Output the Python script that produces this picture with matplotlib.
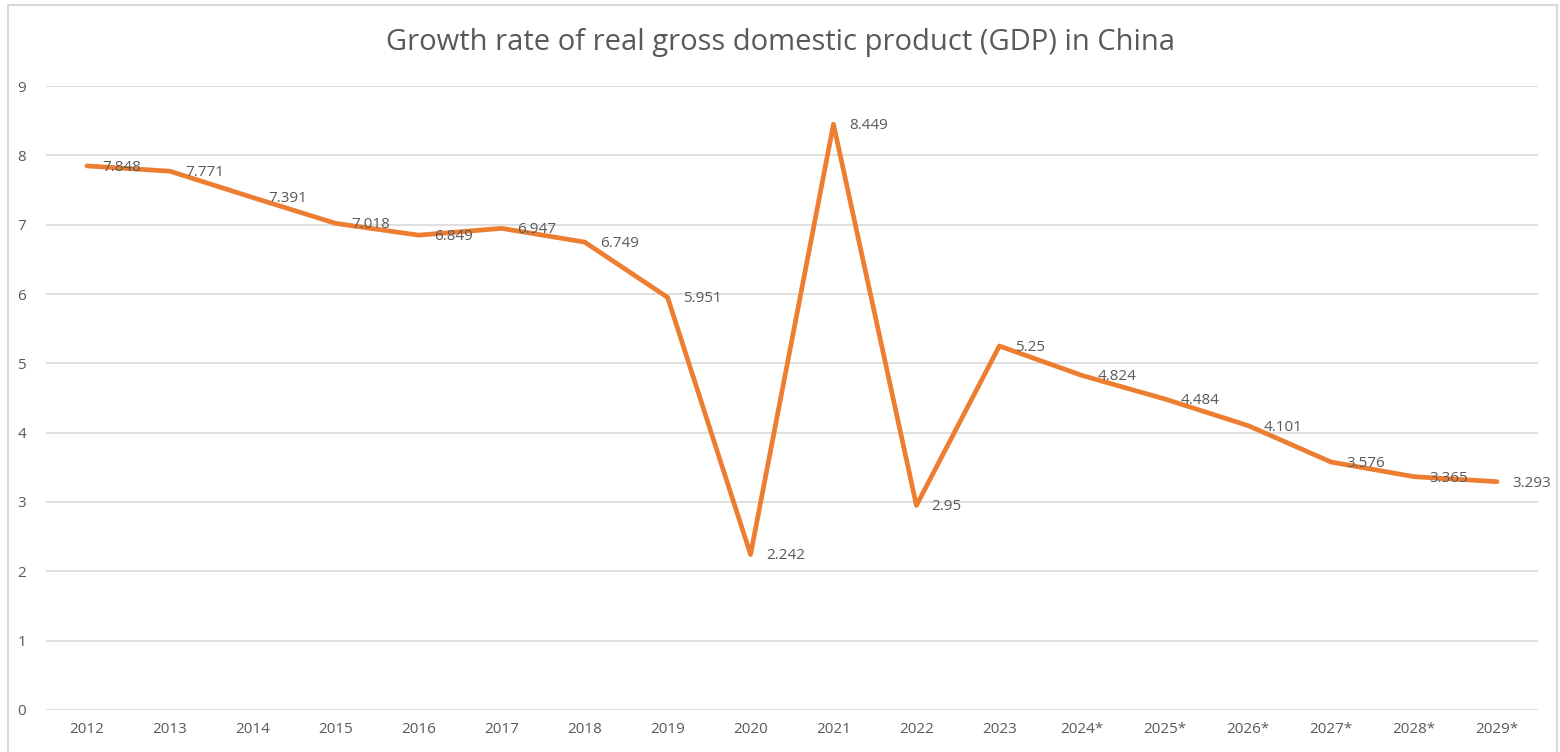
import matplotlib.pyplot as plt
from matplotlib.patches import Rectangle

years = ['2012', '2013', '2014', '2015', '2016', '2017', '2018', '2019', '2020',
         '2021', '2022', '2023', '2024*', '2025*', '2026*', '2027*', '2028*', '2029*']
growth = [7.848, 7.771, 7.391, 7.018, 6.849, 6.947, 6.749, 5.951, 2.242,
          8.449, 2.95, 5.25, 4.824, 4.484, 4.101, 3.576, 3.365, 3.293]

text_col = '#595959'
grid_col = '#D9D9D9'
line_col = '#ED7D31'

plt.rcParams['font.family'] = ['Open Sans', 'DejaVu Sans']

fig = plt.figure(figsize=(15.6, 7.52), dpi=100)
ax = fig.add_axes([0.0292, 0.0559, 0.957, 0.8297])

x = range(len(years))
ax.plot(x, growth, color=line_col, lw=3.4, solid_joinstyle='round', solid_capstyle='round', zorder=3)

for i, v in zip(x, growth):
    ax.annotate(f'{v:g}', (i, v), xytext=(11, -1), textcoords='offset points',
                ha='left', va='center', fontsize=11, color=text_col, zorder=4)

ax.set_xlim(-0.5, len(years) - 0.5)
ax.set_ylim(0, 9)
ax.set_yticks(range(10))
ax.set_xticks(list(x))
ax.set_xticklabels(years)
ax.grid(axis='y', color=grid_col, lw=1.2)
ax.set_axisbelow(True)
for s in ax.spines.values():
    s.set_visible(False)
ax.tick_params(length=0, labelsize=11, labelcolor=text_col)
ax.tick_params(axis='y', pad=14)
ax.tick_params(axis='x', pad=9)

fig.text(0.5, 0.943, 'Growth rate of real gross domestic product (GDP) in China',
         ha='center', va='center', fontsize=21, color=text_col)

# chart frame
fig.patches.append(Rectangle((0.005, -0.01), 0.993, 1.003, transform=fig.transFigure,
                             fill=False, edgecolor=grid_col, lw=1.5))

fig.savefig('out.png', dpi=100)
